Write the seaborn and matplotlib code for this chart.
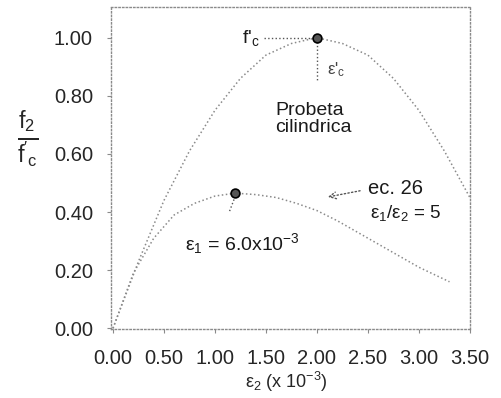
import matplotlib
matplotlib.use('Agg')
import matplotlib.pyplot as plt
import seaborn as sns
import pandas as pd

# curva de la probeta cilindrica
e2_cil = [0.0, 0.25, 0.5, 0.75, 1.0, 1.25, 1.5, 1.75, 2.0, 2.25, 2.5, 2.75, 3.0, 3.25, 3.5]
f_cil = [0.0, 0.23, 0.44, 0.61, 0.75, 0.86, 0.94, 0.98, 1.0, 0.98, 0.94, 0.86, 0.75, 0.61, 0.45]

# curva ec. 26 con e1/e2 = 5
e2_ec26 = [0.0, 0.2, 0.4, 0.6, 0.8, 1.0, 1.2, 1.4, 1.6, 1.8, 2.0, 2.2, 2.4, 2.6, 2.8, 3.0, 3.3]
f_ec26 = [0.0, 0.19, 0.31, 0.39, 0.43, 0.455, 0.465, 0.46, 0.45, 0.43, 0.405, 0.37, 0.33, 0.29, 0.25, 0.21, 0.16]

# puntos de pico
picos_x = [2.0, 1.2]
picos_y = [1.0, 0.465]

xticks = [0.0, 0.5, 1.0, 1.5, 2.0, 2.5, 3.0, 3.5]
yticks = [0.0, 0.2, 0.4, 0.6, 0.8, 1.0]

sns.set_theme(style='white')
plt.rcParams['font.family'] = ['Liberation Sans', 'DejaVu Sans']
plt.rcParams['mathtext.fontset'] = 'custom'
plt.rcParams['mathtext.rm'] = 'Liberation Sans'
plt.rcParams['mathtext.it'] = 'Liberation Sans'

fig = plt.figure(figsize=(5.02, 3.98), dpi=100)
ax = fig.add_axes([0.221, 0.173, 0.715, 0.809])

gris = '#8a8a8a'
osc = '#555555'
txt = '#1a1a1a'
df_cil = pd.DataFrame({'e2': e2_cil, 'f': f_cil})
df_ec = pd.DataFrame({'e2': e2_ec26, 'f': f_ec26})
sns.lineplot(data=df_cil, x='e2', y='f', ax=ax, color=gris, lw=1.1, linestyle=':')
sns.lineplot(data=df_ec, x='e2', y='f', ax=ax, color=gris, lw=1.1, linestyle=':')
sns.scatterplot(x=picos_x, y=picos_y, ax=ax, s=40, color='#555555',
                edgecolor='black', linewidth=1.2, zorder=5)

# lineas auxiliares y textos
ax.plot([1.48, 2.0], [1.0, 1.0], ls=':', color=osc, lw=1)
ax.plot([2.0, 2.0], [1.0, 0.85], ls=':', color=osc, lw=1)
ax.text(1.27, 1.0, "f'$_\\mathregular{c}$", fontsize=14, va='center', color=txt)
ax.text(2.1, 0.89, "ε'$_\\mathregular{c}$", fontsize=12, va='center', color='#444444')
ax.text(1.59, 0.72, 'Probeta\ncilindrica', fontsize=14, ha='left', va='center',
        color=txt, linespacing=1.05)
ax.plot([1.2, 1.14], [0.455, 0.40], ls=':', color=osc, lw=1)
ax.text(1.27, 0.29, 'ε$_\\mathregular{1}$ = 6.0x10$^{\\mathregular{-3}}$', fontsize=14,
        ha='center', va='center', color=txt)
ax.annotate('', xy=(2.08, 0.45), xytext=(2.45, 0.475),
            arrowprops=dict(arrowstyle='->', ls=':', color=osc, lw=1))
ax.text(2.5, 0.48, 'ec. 26', fontsize=14.5, va='center', color=txt)
ax.text(2.52, 0.395, 'ε$_\\mathregular{1}$/ε$_\\mathregular{2}$ = 5', fontsize=13.5,
        va='center', color=txt)

ax.set_xlim(-0.02, 3.5)
ax.set_ylim(-0.003, 1.105)
ax.set_xticks(xticks)
ax.set_yticks(yticks)
ax.set_xticklabels([f'{v:.2f}' for v in xticks], fontsize=14.5)
ax.set_yticklabels([f'{v:.2f}' for v in yticks], fontsize=14.5)
ax.tick_params(axis='both', direction='out', length=3, width=0.8, color=gris,
               bottom=True, left=True, pad=10)
ax.tick_params(axis='x', pad=11)
for sp in ax.spines.values():
    sp.set_linestyle(':')
    sp.set_color(gris)
    sp.set_linewidth(1)

ax.set_xlabel('ε$_\\mathregular{2}$ (x 10$^{\\mathregular{-3}}$)', fontsize=13, labelpad=0)
ax.xaxis.set_label_coords(0.49, -0.128)
ax.set_ylabel("$\\frac{\\mathregular{f_2}}{\\mathregular{f'_c}}$", fontsize=24,
              rotation=0, va='center', ha='center')
ax.yaxis.set_label_coords(-0.232, 0.59)

fig.savefig('out.png', dpi=100)
